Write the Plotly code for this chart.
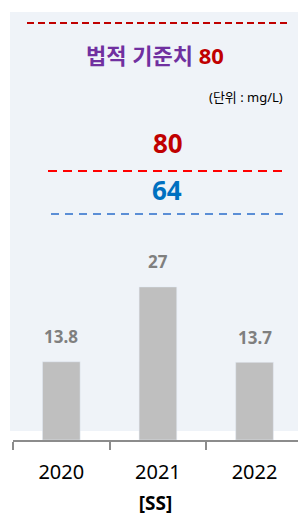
import plotly.graph_objects as go

years = ["2020", "2021", "2022"]
ss_values = [13.8, 27, 13.7]
value_labels = ["13.8", "27", "13.7"]
legal_limit = 80
target_80 = 80
target_64 = 64
axis_title = "[SS]"
unit_text = "(단위 : mg/L)"
limit_label = "법적 기준치"

W, H = 298, 516
ml, mr, mt, mb = 13, 0, 12, 76
pw, ph = W - ml - mr, H - mt - mb

def px(xp):
    return (xp - ml) / pw

def py(yp):
    return (H - mb - yp) / ph

fig = go.Figure()
fig.add_trace(go.Bar(
    x=years, y=ss_values, marker_color="#BFBFBF", width=0.39,
    hoverinfo="skip",
))

FONT = "Noto Sans, Noto Sans CJK KR, sans-serif"

for i, (v, t) in enumerate(zip(ss_values, value_labels)):
    fig.add_annotation(x=i, y=v, xref="x", yref="y", text=f"<b>{t}</b>",
                       showarrow=False, yanchor="middle", yshift=25,
                       font=dict(size=17, color="#7F7F7F", family=FONT))

shapes = [
    dict(type="rect", xref="paper", yref="paper", x0=px(10), x1=1, y0=py(431), y1=1,
         fillcolor="#EFF3F8", line=dict(width=0), layer="below"),
    dict(type="line", xref="paper", yref="paper", x0=px(27), x1=px(291), y0=py(23), y1=py(23),
         line=dict(color="#C00000", width=2, dash="7px,4px")),
    dict(type="line", xref="paper", yref="paper", x0=px(48), x1=px(285), y0=py(171), y1=py(171),
         line=dict(color="#FF0000", width=2, dash="9px,6px")),
    dict(type="line", xref="paper", yref="paper", x0=px(51), x1=px(283), y0=py(214), y1=py(214),
         line=dict(color="#5B8ED6", width=2, dash="8px,6px")),
]

annos = [
    dict(x=px(155), y=py(55), text=f"<b>{limit_label} <span style='color:#C00000'>{legal_limit}</span></b>",
         font=dict(size=22, color="#7030A0", family=FONT)),
    dict(x=px(285), y=py(97), text=unit_text, xanchor="right",
         font=dict(size=13, color="#000000", family=FONT)),
    dict(x=px(168), y=py(143), text=f"<b>{target_80}</b>",
         font=dict(size=26, color="#C00000", family=FONT)),
    dict(x=px(167), y=py(190), text=f"<b>{target_64}</b>",
         font=dict(size=26, color="#0070C0", family=FONT)),
]
for a in annos:
    a.setdefault("xanchor", "center")
    fig.add_annotation(xref="paper", yref="paper", showarrow=False, yanchor="middle", **a)

fig.update_layout(
    width=W, height=H,
    margin=dict(l=ml, r=mr, t=mt, b=mb),
    paper_bgcolor="white", plot_bgcolor="rgba(0,0,0,0)",
    showlegend=False,
    shapes=shapes,
    font=dict(family=FONT),
    xaxis=dict(type="category", range=[-0.5, 2.45], tickson="boundaries",
               ticks="outside", ticklen=8, tickcolor="#8C8C8C", tickwidth=1.5,
               showline=True, linecolor="#8C8C8C", linewidth=1.5,
               showgrid=False, zeroline=False,
               tickfont=dict(size=20, color="#000000", family=FONT),
               ticklabelstandoff=13,
               title=dict(text=f"<b>{axis_title}</b>", standoff=18,
                          font=dict(size=19, color="#000000", family=FONT))),
    yaxis=dict(range=[0, ph / 5.67], visible=False, fixedrange=True),
)

fig.write_html("out.html", config={"displayModeBar": False},
               post_script="document.body.style.margin='0';document.body.style.overflow='hidden';")
